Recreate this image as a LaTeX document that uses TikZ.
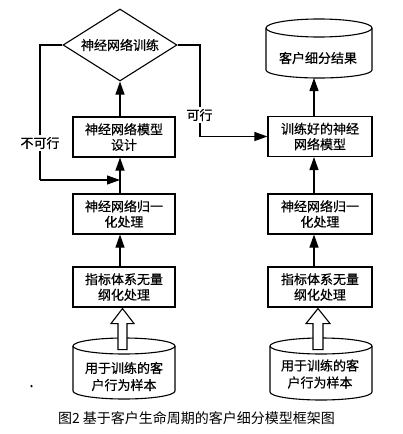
\documentclass[tikz,border=0pt]{standalone}
\usepackage{fontspec}
\newfontfamily\cjk{Noto Sans CJK SC}
\newfontfamily\cjkb{Noto Sans CJK SC}[FakeBold=0.6]
\usetikzlibrary{arrows.meta,shapes.geometric,calc}
\begin{document}
\begin{tikzpicture}[x=1pt,y=-1pt,
  line width=1.1pt,
  box/.style={draw, rectangle, minimum height=40pt, inner sep=0pt, align=center, font=\cjkb\fontsize{13}{15.5}\selectfont},
  txt/.style={inner sep=0pt, align=center, font=\cjkb\fontsize{13}{17}\selectfont},
  lbl/.style={inner sep=1.5pt, fill=white, font=\cjkb\fontsize{13}{15}\selectfont},
  arr/.style={-{Triangle[length=13pt,width=9pt]}},
  hollow/.style={draw, fill=white, line join=miter}]
\useasboundingbox (0,0) rectangle (403,434);

% left column
\node[draw, diamond, aspect=1.58, minimum width=114pt, minimum height=72pt, inner sep=0pt,
      font=\cjkb\fontsize{13}{15}\selectfont] (dia) at (120,45) {神经网络训练};
\node[box, minimum width=102pt] (designL) at (124,137) {神经网络模型\\设计};
\node[box, minimum width=102pt] (normL) at (124,214) {神经网络归一\\化处理};
\node[box, minimum width=102pt] (idxL) at (124,287) {指标体系无量\\纲化处理};

% left bottom cylinder
\draw (73,346) -- (73,391) arc[start angle=180, end angle=360, x radius=51pt, y radius=8pt] -- (175,346);
\draw (124,346) ellipse [x radius=51pt, y radius=8pt];
\node[txt] (samplesL) at (124,376.5) {用于训练的客\\户行为样本};

% right column
\draw (266,28) -- (266,70) arc[start angle=180, end angle=360, x radius=53pt, y radius=8pt] -- (372,28);
\draw (319,28) ellipse [x radius=53pt, y radius=9pt];
\node[txt] (res) at (318,58) {客户细分结果};
\coordinate (resB) at (314,78);

\node[box, minimum width=104pt] (trained) at (320,136.5) {训练好的神经\\网络模型};
\node[box, minimum width=104pt] (normR) at (320,214) {神经网络归一\\化处理};
\node[box, minimum width=104pt] (idxR) at (320,287) {指标体系无量\\纲化处理};

% right bottom cylinder
\draw (270,346) -- (270,392) arc[start angle=180, end angle=360, x radius=51pt, y radius=8pt] -- (372,346);
\draw (321,346) ellipse [x radius=51pt, y radius=8pt];
\node[txt] (samplesR) at (320,374) {用于训练的客\\户行为样本};

% hollow arrows
\draw[hollow] ($(idxL.south)+(-1.5,1)$) -- ($(idxL.south)+(10,16)$) -- ($(idxL.south)+(3,16)$)
  -- ($(idxL.south)+(3,42)$) -- ($(idxL.south)+(-6,42)$) -- ($(idxL.south)+(-6,16)$)
  -- ($(idxL.south)+(-13,16)$) -- cycle;
\draw[hollow] ($(idxR.south)+(-2,1)$) -- ($(idxR.south)+(10,16)$) -- ($(idxR.south)+(3,16)$)
  -- ($(idxR.south)+(3,42)$) -- ($(idxR.south)+(-7,42)$) -- ($(idxR.south)+(-7,16)$)
  -- ($(idxR.south)+(-14,16)$) -- cycle;

% vertical arrows left
\draw[arr] (designL.north -| dia.south) -- (dia.south);
\draw[arr] (normL.north -| dia.south) -- (designL.south -| dia.south);
\draw[arr] (idxL.north -| dia.south) -- (normL.south -| dia.south);

% vertical arrows right
\draw[arr] (trained.north -| resB) -- (resB);
\draw[arr] (normR.north -| resB) -- (trained.south -| resB);
\draw[arr] (idxR.north -| resB) -- (normR.south -| resB);

% feedback loop (not feasible)
\coordinate (lA) at (40,45);
\coordinate (lB) at (40,180);
\coordinate (lC) at (120,180);
\draw (dia.west) -- (lA) -- (lB);
\draw[arr] (lB) -- (lC);
\node[lbl] (no) at (40,143) {不可行};

% feasible branch
\coordinate (rA) at (200,45);
\coordinate (rB) at (200,136.5);
\draw (dia.east) -- (rA) -- (rB);
\draw[arr] (rB) -- (trained.west);
\node[lbl] (yes) at (199.5,115) {可行};

% stray dot
\node[circle, fill, inner sep=0pt, minimum size=2.5pt] (dot) at (31.5,386) {};

% caption
\node[inner sep=0pt, font=\cjk\fontsize{14}{16}\selectfont] (cap) at (196.5,418) {图2 基于客户生命周期的客户细分模型框架图};
\end{tikzpicture}
\end{document}
